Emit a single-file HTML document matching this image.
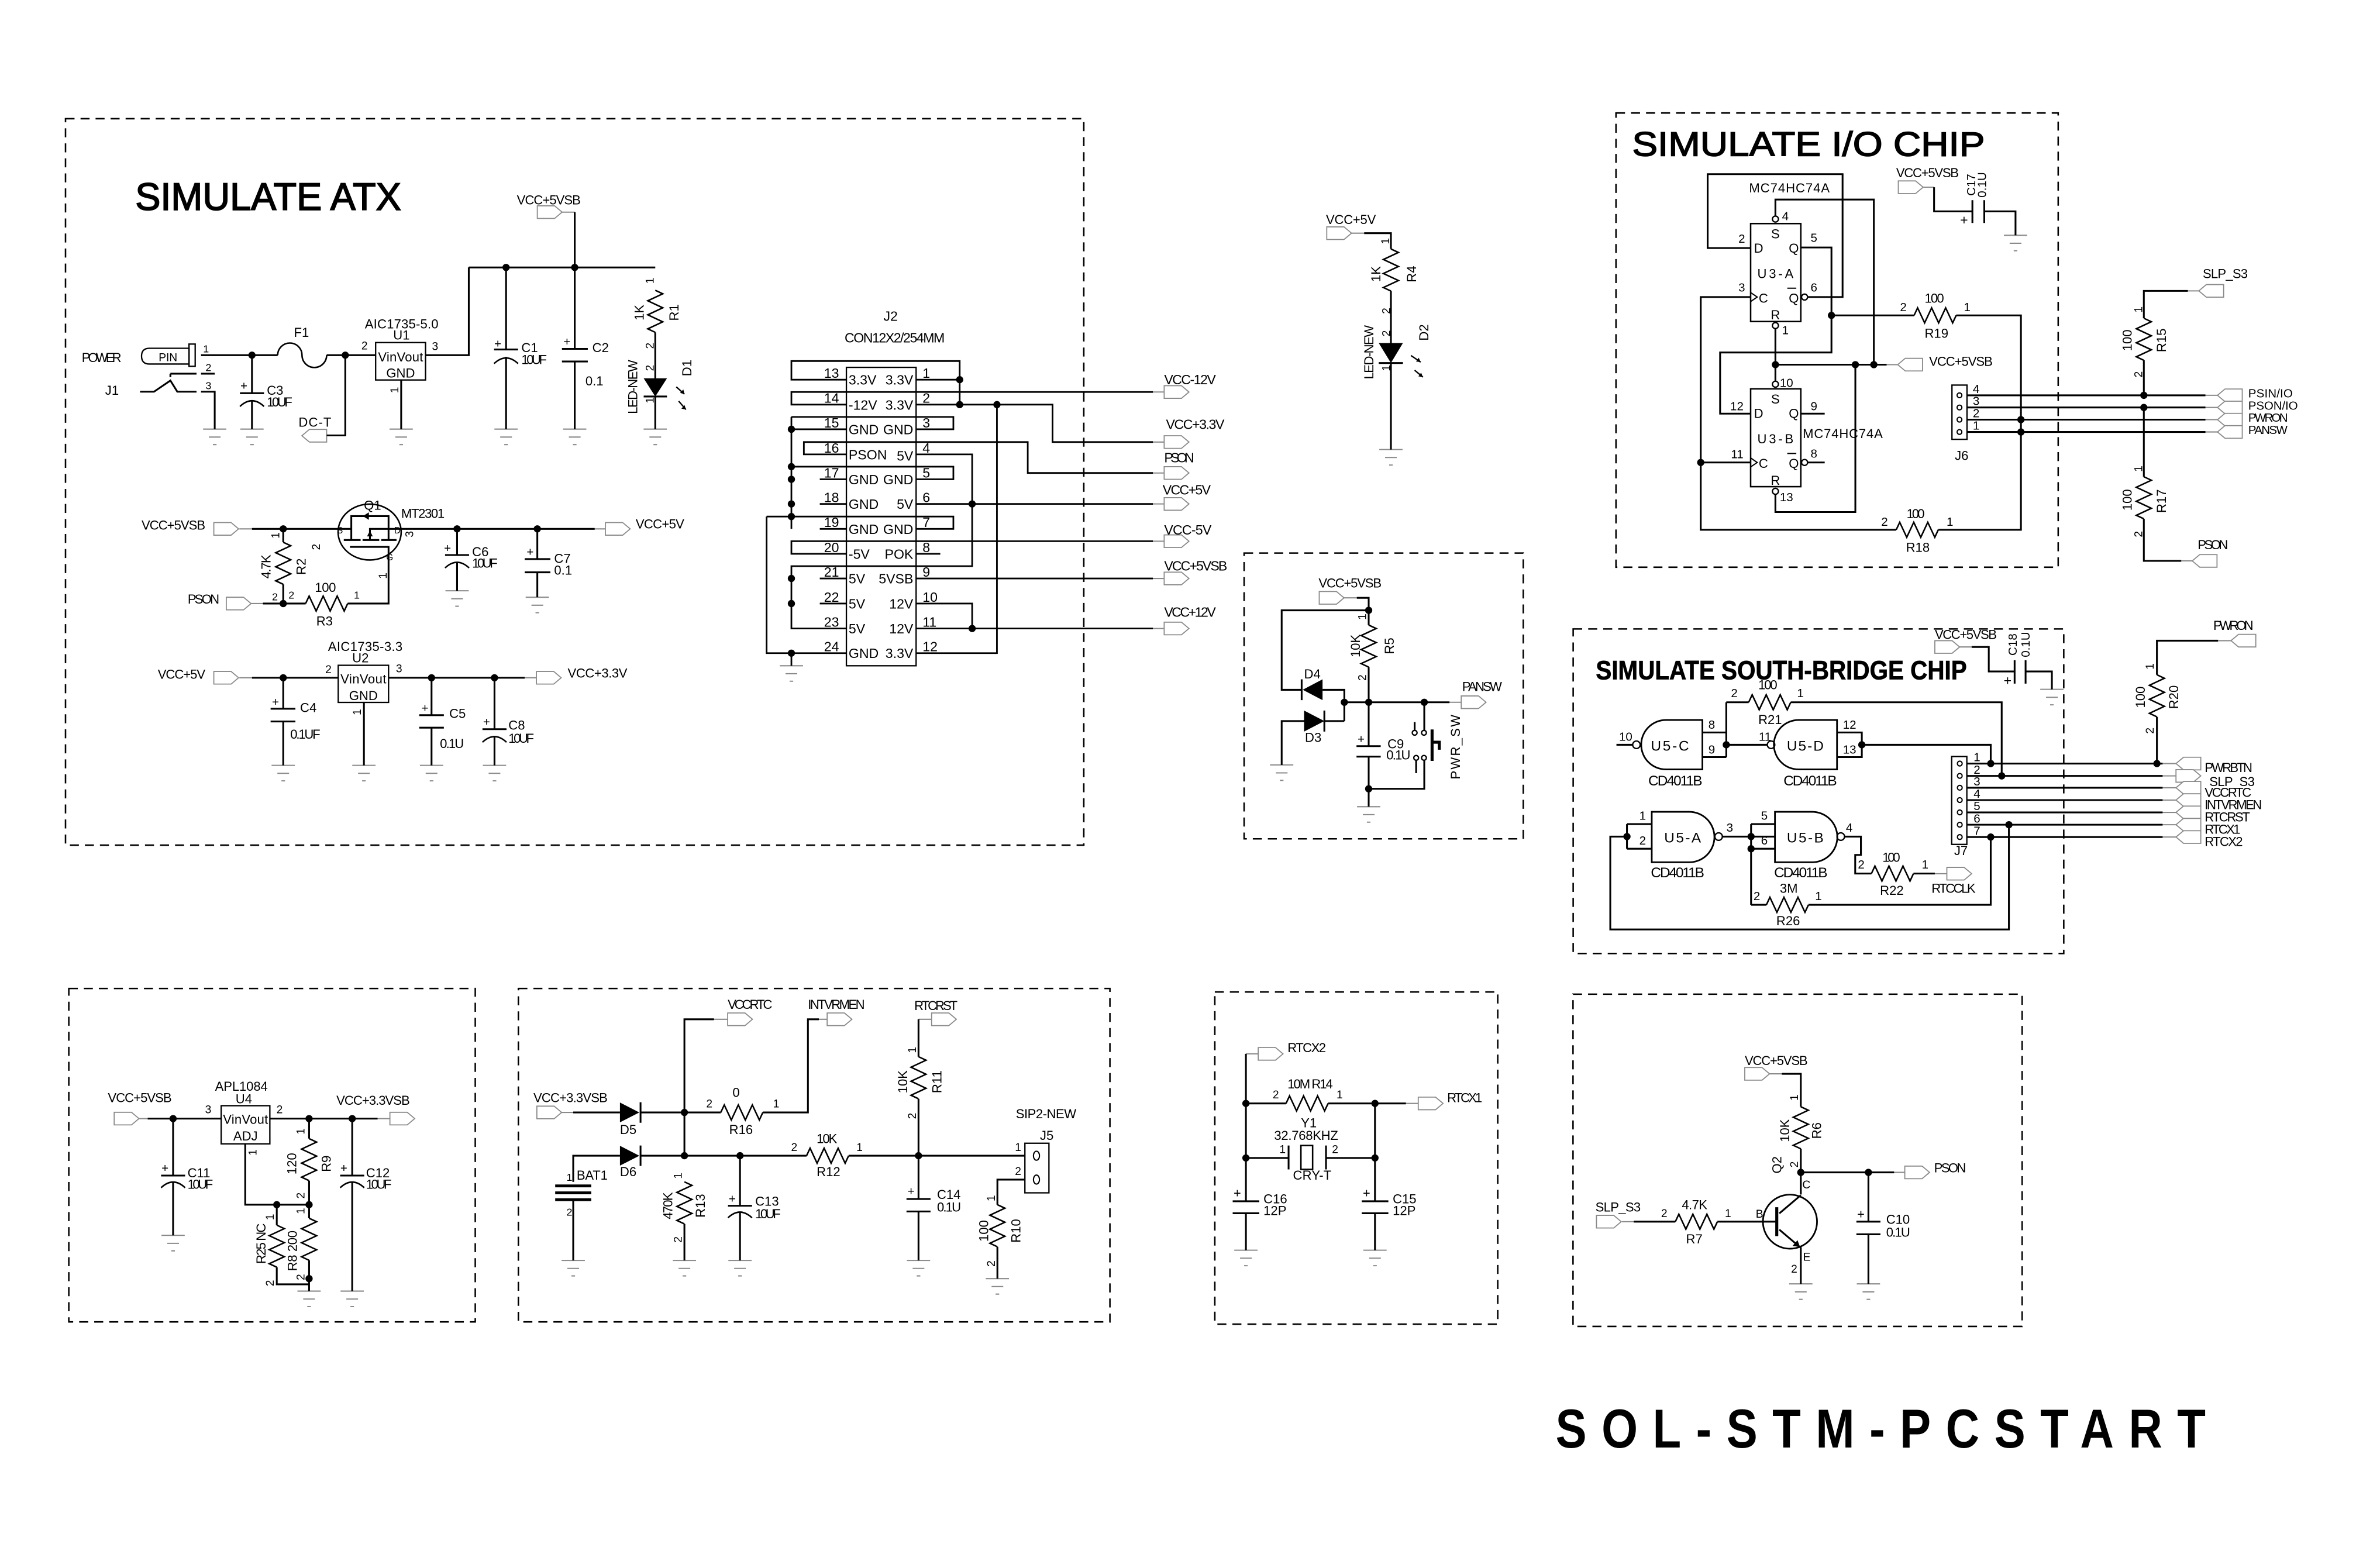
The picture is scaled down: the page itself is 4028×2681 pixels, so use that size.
<!DOCTYPE html>
<html><head><meta charset="utf-8"><style>
html,body{margin:0;padding:0;background:#fff;}
svg{display:block;}
text{font-family:"Liberation Sans",sans-serif;fill:#000;stroke:none;}
.r{text-anchor:middle;}
.m{text-anchor:middle;}
.e{text-anchor:end;}
</style></head><body>
<svg xmlns="http://www.w3.org/2000/svg" width="4028" height="2681" viewBox="0 0 1568 1043.6" preserveAspectRatio="none">
<defs>
<g id="gnd" stroke="#8a8a8a" stroke-width="0.8" fill="none"><path d="M-7.75,0H7.75M-3.9,5.3H3.9M-1.2,10.3H1.2"/></g>
<path id="rv" d="M0,0L5,2.33L-5,7L5,11.67L-5,16.33L5,21L-5,25.67L0,28" fill="none" stroke="#000" stroke-width="1"/>
<path id="rh" d="M0,0L2.33,-5L7,5L11.67,-5L16.33,5L21,-5L25.67,5L28,0" fill="none" stroke="#000" stroke-width="1"/>
<path id="pr" d="M0,-4.2H11.5L16.5,0L11.5,4.2H0Z" fill="#fff" stroke="#8a8a8a" stroke-width="0.7"/>
<path id="pl" d="M16.5,-4.2H5L0,0L5,4.2H16.5Z" fill="#fff" stroke="#8a8a8a" stroke-width="0.7"/>
</defs>
<rect width="1568" height="1043.6" fill="#fff"/>

<!-- dashed boxes -->
<g fill="none" stroke="#000" stroke-width="1" stroke-dasharray="6,4">
<rect x="43.6" y="79" width="677.7" height="483.5"/>
<rect x="828" y="368.1" width="185.8" height="190.2"/>
<rect x="1075.5" y="75.2" width="294.3" height="302.3"/>
<rect x="1047" y="418.6" width="326.5" height="216"/>
<rect x="45.8" y="657.9" width="270.5" height="221.9"/>
<rect x="345" y="657.9" width="393.7" height="221.9"/>
<rect x="808.5" y="660.2" width="188.3" height="221.1"/>
<rect x="1046.9" y="661.7" width="298.9" height="221.1"/>
</g>

<!-- gray leads -->
<path fill="none" stroke="#8a8a8a" stroke-width="0.8" d="
M374.1,141.2H382.5 M159.3,352H167.7 M167.1,401.7H175 M395.8,352H402.9 M159.3,451.1H167.7 M349.2,451.1H357
M767.3,260.9H774.8 M767.3,294.2H774.8 M767.3,314.8H774.8 M767.3,335.4H774.8 M767.3,360.2H774.8 M767.3,385H774.8 M767.3,418.3H774.8
M899.5,155.2H907.9 M894.5,397.9H903 M964.7,467.4H972.5
M1279.9,124.6H1287.2 M1255.6,242.7H1263 M1467.8,263.1H1475.8 M1467.8,271.2H1475.8 M1467.8,279.3H1475.8 M1467.8,287.5H1475.8 M1456.1,193.6H1463.4 M1451.7,373.3H1459
M1304.2,430.6H1312.2 M1439.3,508.2H1448.2 M1439.3,516.4H1448.2 M1439.3,524.3H1448.2 M1439.3,532.5H1448.2 M1439.3,540.7H1448.2 M1439.3,548.9H1448.2 M1439.3,557.1H1448.2 M1476.2,426.4H1484.8 M1287.7,581.5H1295.7
M92.6,744.5H98.3 M251.3,744.5H259.5 M373.8,740.4H381.5 M545,678.4H550.5 M475.2,678.4H484.3 M611.3,678.4H620
M829.2,701.4H837.4 M935.7,734.4H943.9 M1177.2,714.7H1185.9 M1260.6,780.3H1267.7 M1079.5,813.1H1087.3"/>

<!-- ports -->
<use href="#pr" x="357.6" y="141.2"/>
<use href="#pr" x="142.3" y="352"/>
<use href="#pr" x="150.6" y="401.7"/>
<use href="#pr" x="402.9" y="352"/>
<use href="#pr" x="142.3" y="451.1"/>
<use href="#pr" x="357" y="451.1"/>
<use href="#pl" x="200.9" y="290"/>
<use href="#pr" x="774.8" y="260.9"/>
<use href="#pr" x="774.8" y="294.2"/>
<use href="#pr" x="774.8" y="314.8"/>
<use href="#pr" x="774.8" y="335.4"/>
<use href="#pr" x="774.8" y="360.2"/>
<use href="#pr" x="774.8" y="385"/>
<use href="#pr" x="774.8" y="418.3"/>
<use href="#pr" x="883" y="155.2"/>
<use href="#pr" x="878" y="397.9"/>
<use href="#pr" x="972.5" y="467.4"/>
<use href="#pr" x="1263.4" y="124.6"/>
<use href="#pl" x="1263" y="242.7"/>
<use href="#pl" x="1475.8" y="263.1"/>
<use href="#pl" x="1475.8" y="271.2"/>
<use href="#pl" x="1475.8" y="279.3"/>
<use href="#pl" x="1475.8" y="287.5"/>
<use href="#pl" x="1463.4" y="193.6"/>
<use href="#pl" x="1459" y="373.3"/>
<use href="#pr" x="1287.7" y="430.6"/>
<use href="#pl" x="1448.2" y="508.2"/>
<use href="#pr" x="1448.2" y="516.4"/>
<use href="#pl" x="1448.2" y="524.3"/>
<use href="#pl" x="1448.2" y="532.5"/>
<use href="#pl" x="1448.2" y="540.7"/>
<use href="#pl" x="1448.2" y="548.9"/>
<use href="#pl" x="1448.2" y="557.1"/>
<use href="#pl" x="1484.8" y="426.4"/>
<use href="#pr" x="1295.7" y="581.5"/>
<use href="#pr" x="76" y="744.5"/>
<use href="#pr" x="259.5" y="744.5"/>
<use href="#pr" x="357.3" y="740.4"/>
<use href="#pr" x="550.5" y="678.4"/>
<use href="#pr" x="484.3" y="678.4"/>
<use href="#pr" x="620" y="678.4"/>
<use href="#pr" x="837.4" y="701.4"/>
<use href="#pr" x="943.9" y="734.4"/>
<use href="#pr" x="1161.2" y="714.7"/>
<use href="#pr" x="1267.7" y="780.3"/>
<use href="#pr" x="1062.5" y="813.1"/>

<!-- grounds -->
<use href="#gnd" x="142.9" y="285.6"/><use href="#gnd" x="167.7" y="285.6"/><use href="#gnd" x="267" y="285.6"/>
<use href="#gnd" x="336.8" y="285.6"/><use href="#gnd" x="382.5" y="285.6"/><use href="#gnd" x="436.1" y="285.6"/>
<use href="#gnd" x="304.2" y="393.2"/><use href="#gnd" x="357.6" y="397.5"/>
<use href="#gnd" x="188.5" y="509.4"/><use href="#gnd" x="242.2" y="509.4"/><use href="#gnd" x="287.2" y="509.4"/><use href="#gnd" x="329.1" y="509.4"/>
<use href="#gnd" x="526.7" y="443.1"/>
<use href="#gnd" x="925.7" y="299.2"/>
<use href="#gnd" x="853" y="509.1"/><use href="#gnd" x="910.9" y="536.9"/>
<use href="#gnd" x="1341.4" y="156.6"/>
<use href="#gnd" x="1365.6" y="458.8"/>
<use href="#gnd" x="115.2" y="822.2"/><use href="#gnd" x="205.7" y="859.3"/><use href="#gnd" x="234.4" y="859.3"/>
<use href="#gnd" x="381.5" y="838.9"/><use href="#gnd" x="455.5" y="838.9"/><use href="#gnd" x="492.5" y="838.9"/><use href="#gnd" x="611.3" y="838.9"/><use href="#gnd" x="663.8" y="851"/>
<use href="#gnd" x="829.2" y="832.1"/><use href="#gnd" x="915.1" y="832.1"/>
<use href="#gnd" x="1198.5" y="854.5"/><use href="#gnd" x="1243.5" y="854.5"/>

<!-- resistors -->
<use href="#rv" x="436.1" y="193.2"/>
<use href="#rv" x="188.5" y="360.9"/>
<use href="#rh" x="203.4" y="401.7"/>
<use href="#rv" x="925.7" y="165.7"/>
<use href="#rv" x="910.9" y="416"/>
<use href="#rh" x="1273.9" y="209.9"/>
<use href="#rh" x="1262" y="352.6"/>
<use href="#rv" x="1426.8" y="211.8"/>
<use href="#rv" x="1426.8" y="317.3"/>
<use href="#rh" x="1163.8" y="467.4"/>
<use href="#rv" x="1435.5" y="449.1"/>
<use href="#rh" x="1245.5" y="581.4"/>
<use href="#rh" x="1175.6" y="602.2"/>
<use href="#rv" x="205.7" y="757.8"/>
<use href="#rv" x="205.7" y="810.8"/>
<use href="#rv" x="184.2" y="815.4"/>
<use href="#rh" x="479.7" y="740.4"/>
<use href="#rh" x="536.8" y="769.2"/>
<use href="#rv" x="455.5" y="786.6"/>
<use href="#rv" x="611.3" y="703.3"/>
<use href="#rv" x="663.8" y="801.8"/>
<use href="#rh" x="855.9" y="734.4"/>
<use href="#rv" x="1198.5" y="736.6"/>
<use href="#rh" x="1115" y="813.1"/>

<!-- wires -->
<g fill="none" stroke="#000" stroke-width="1.2">
<path d="M382.5,141.2V178 M312,178H436.1 M312,178V236.4H283.2
M336.8,178V232.6 M328.8,232.6H344.8 M336.8,237.5V285.6
M382.5,178V232.2 M374,232.2H391.2 M374,240.6H391.2 M382.5,240.6V285.6
M436.1,221.2V251.8 M428.4,263.9H443.9 M436.1,263.9V285.6
M133.8,236.4H184.8 M133.8,248.7H142.9 M113.4,248.7H130.8 M133.8,260.7H142.9V285.6
M93.2,260.7H102.5L113.4,253.3L118,260.7H130.8 M113.4,248.7V251
M167.7,236.4V261.7 M159.7,261.7H175.7 M167.7,266.5V285.6
M217.4,236.4H250 M229.8,236.4V289.8H217.4 M267,252.9V285.6"/>
<path d="M328.8,242Q336.8,234.5 344.8,242 M159.7,270.5Q167.7,263 175.7,270.5 M184.8,236.4A8.1,8.1 0 0 1 201,236.4A8.2,8.2 0 0 0 217.4,236.4" stroke-width="1"/>
<path d="M125.8,231.8H99.5Q94.2,231.8 94.2,237Q94.2,242.3 99.5,242.3H125.8Z" stroke-width="0.9"/>
<rect x="125.8" y="229" width="4.1" height="14.8" stroke-width="0.9"/>
<rect x="250" y="228" width="33.2" height="24.9" stroke-width="0.9"/>
<path d="M450.1,257.5L455.5,262.3 M451.7,267L456.5,272.6" stroke-width="0.9"/>
<path d="M167.7,352H233.8 M233.8,359.4V343.5H258.6V359.4 M228.8,359.4H240 M241.3,359.4H252.4 M253.7,359.4H263.9 M232.9,364H259.2 M246.2,359.4V352H395.8 M258.6,364V401.7H231.4
M304.2,352V369.4 M296.2,369.4H312.2 M304.2,374.5V393.2
M357.6,352V372.1 M349.2,372.1H366.3 M349.2,380.9H366.3 M357.6,380.9V397.5
M188.5,352V360.9 M188.5,388.9V401.7 M175,401.7H203.4"/>
<path d="M296.2,378Q304.2,370.5 312.2,378" stroke-width="1"/>
<ellipse cx="246" cy="354.1" rx="21" ry="18.6" stroke-width="1"/>
<path d="M167.7,451.1H225.1 M258.6,451.1H349.2 M242.2,467.5V509.4
M188.5,451.1V471.7 M180.1,471.7H196.6 M180.1,480.2H196.6 M188.5,480.2V509.4
M287.2,451.1V476 M279,476H295.4 M279,484.3H295.4 M287.2,484.3V509.4
M329.1,451.1V485.3 M321.1,485.3H337.1 M329.1,490V509.4"/>
<path d="M321.1,494Q329.1,486.5 337.1,494" stroke-width="1"/>
<rect x="225.1" y="442.8" width="33.5" height="24.7" stroke-width="0.9"/>

<!-- J2 -->
<rect x="563.3" y="244.5" width="46.4" height="198.6" stroke-width="0.9"/>
<path stroke-width="1.1" d="M545.6,252.7H563.3 M545.6,269.3H563.3 M545.6,285.7H563.3 M545.6,302.4H563.3 M545.6,319H563.3 M545.6,335.4H563.3 M545.6,352H563.3 M545.6,368.6H563.3 M545.6,385H563.3 M545.6,401.7H563.3 M545.6,418.3H563.3 M545.6,434.7H563.3
M609.7,252.7H625.8 M609.7,269.3H625.8 M609.7,285.7H625.8 M609.7,302.4H625.8 M609.7,319H625.8 M609.7,335.4H625.8 M609.7,352H625.8 M609.7,368.6H625.8 M609.7,385H625.8 M609.7,401.7H625.8 M609.7,418.3H625.8 M609.7,434.7H625.8
M545.6,252.7H526.7V240.3H638.7V269.3 M625.8,252.7H638.7
M545.6,269.3H526.7V260.9H767.3
M625.8,269.3H700.5V294.2H767.3 M663.5,269.3V434.7H625.8
M526.7,277.5V352 M526.7,277.5H634.5V285.7H625.8 M545.6,285.7H526.7
M545.6,302.4H535V294.2H684V314.8H767.3
M526.7,310.6H634.5V319H625.8
M510.2,343.8H634.5V352H625.8 M510.2,343.8V434.7H545.6 M526.7,434.7V443.1
M625.8,302.4H647V376.8H526.7V418.3H545.6
M625.8,335.4H767.3
M545.6,368.6H526.7V360.2H767.3
M625.8,385H767.3
M625.8,401.7H647V418.3 M625.8,418.3H767.3"/>

<!-- D2 -->
<path d="M907.9,155.2H925.7V165.7 M925.7,193.7V228.3 M917.6,241.6H933.7 M925.7,241.6V299.2"/>
<path d="M939,236.6L945.5,241 M941.5,246.4L947,251" stroke-width="0.9"/>

<!-- PANSW -->
<path d="M903,397.9H910.9V416 M910.9,406.2H853V459.1H866.3 M866.3,452.1V466 M880.2,459.1H894.7V479.9
M853,509.1V479.9H867.9 M881.4,472.9V486.9 M881.4,479.9H894.7
M894.7,467.4H964.7 M910.9,444V467.4 M910.9,467.4V496.6 M902.8,496.6H918.9 M902.8,503.6H918.9 M910.9,503.6V536.9
M910.9,525H947.9V506 M947.9,467.4V486 M941.5,486V480.6 M942.5,506V514.6"/>
<path d="M953.1,485.5V506.4 M953.1,494H957.9V499" stroke-width="2"/>
<circle cx="941.5" cy="487.7" r="1.6" stroke-width="0.9"/><circle cx="947.7" cy="487.7" r="1.6" stroke-width="0.9"/>
<circle cx="942.5" cy="504.4" r="1.6" stroke-width="0.9"/><circle cx="947.7" cy="504.4" r="1.6" stroke-width="0.9"/>

<!-- IO chip -->
<rect x="1165.1" y="148.8" width="33.4" height="65.2" stroke-width="1"/>
<rect x="1165.1" y="258.8" width="33.4" height="65.1" stroke-width="1"/>
<path d="M1181.6,143.8V132.8H1247.1V242.7
M1165.1,165.1H1136.5V115.9H1226.3V197.7H1203
M1198.5,164.7H1218.9V234.6H1144.8V275.3H1165.1
M1218.9,209.9H1273.9 M1301.9,209.9H1345V352.6H1290
M1165.1,197.7H1131.9V352.6H1262
M1181.6,218.7V253.7 M1181.6,242.7H1255.6
M1234.8,242.7V340.8H1181.6V329
M1131.9,307.8H1165.1 M1198.5,275.3H1214.4 M1203,307.8H1214.4
M1287.2,124.6V140.7H1312.7 M1312.7,133.2V148.4 M1320.6,133.2V148.4 M1320.6,140.7H1341.4V156.6
M1309.1,263.1H1467.8 M1309.1,271.2H1467.8 M1309.1,279.3H1467.8 M1309.1,287.5H1467.8
M1426.8,263.1V239.8 M1426.8,211.8V193.6H1456.1
M1426.8,271.2V317.3 M1426.8,345.3V373.3H1451.7"/>
<path d="M1165.1,194.7L1169.5,197.7L1165.1,200.7 M1165.1,304.8L1169.5,307.8L1165.1,310.8 M1189.5,191.8H1195.5 M1189.5,301.8H1195.5" stroke-width="0.8"/>
<g stroke-width="0.9"><circle cx="1181.6" cy="145.8" r="2"/><circle cx="1181.6" cy="216.7" r="2"/><circle cx="1201" cy="197.7" r="2"/>
<circle cx="1181.6" cy="255.7" r="2"/><circle cx="1181.6" cy="327" r="2"/><circle cx="1201" cy="307.8" r="2"/></g>
<rect x="1299.1" y="256.3" width="10" height="36.1" stroke-width="0.9"/>
<g stroke-width="0.8"><circle cx="1304.1" cy="263.1" r="1.6"/><circle cx="1304.1" cy="271.2" r="1.6"/><circle cx="1304.1" cy="279.3" r="1.6"/><circle cx="1304.1" cy="287.5" r="1.6"/></g>

<!-- South bridge -->
<path d="M1312.2,430.6H1323.6V446.9H1340.8 M1340.8,439.4V455 M1348.1,439.4V455 M1348.1,446.9H1365.6V458.8
M1148.9,467.4H1163.8 M1191.8,467.4H1332.2V516.4
M1075.8,495.7H1086.6 M1133,487.5H1148.9 M1133,503.9H1148.9 M1148.9,467.4V503.9 M1148.9,495.7H1176.2
M1222.6,487.5H1239.1V503.9H1222.6 M1239.1,495.7H1324.9V508.2
M1309,508.2H1439.3 M1309,516.4H1439.3 M1309,524.3H1439.3 M1309,532.5H1439.3 M1309,540.7H1439.3 M1309,548.9H1439.3 M1309,557.1H1439.3
M1435.5,508.2V477.1 M1435.5,449.1V426.4H1476.2
M1146.3,556.8H1181.3 M1082.8,548.5H1099.3 M1082.8,564.9H1099.3 M1082.8,548.5V564.9
M1165.4,548.5H1181.3 M1165.4,564.9H1181.3 M1165.4,548.5V602.2
M1227.6,556.8H1238.5V569H1234.7V581.4H1245.5 M1273.5,581.4H1287.7
M1165.4,602.2H1175.6 M1203.6,602.2H1324.9V557.1
M1082.8,556.8H1071.7V618.6H1337V548.9"/>
<path d="M1133,479.2H1108.7A16.45,16.45 0 0 0 1108.7,512.1H1133Z M1222.6,479.2H1197A16.45,16.45 0 0 0 1197,512.1H1222.6Z M1099.3,540.3H1124.2A16.8,16.8 0 0 1 1124.2,573.9H1099.3Z M1181.3,540.3H1206A16.8,16.8 0 0 1 1206,573.9H1181.3Z" stroke-width="1.1"/>
<g stroke-width="0.9"><circle cx="1089.1" cy="495.7" r="2.5"/><circle cx="1178.7" cy="495.7" r="2.5"/><circle cx="1143.8" cy="556.8" r="2.5"/><circle cx="1225.1" cy="556.8" r="2.5"/></g>
<rect x="1298.9" y="503.5" width="10.1" height="58.5" stroke-width="0.9"/>
<g stroke-width="0.8"><circle cx="1304.3" cy="508.2" r="1.6"/><circle cx="1304.3" cy="516.4" r="1.6"/><circle cx="1304.3" cy="524.3" r="1.6"/><circle cx="1304.3" cy="532.5" r="1.6"/><circle cx="1304.3" cy="540.7" r="1.6"/><circle cx="1304.3" cy="548.9" r="1.6"/><circle cx="1304.3" cy="557.1" r="1.6"/></g>

<!-- bottom left -->
<rect x="147.2" y="735.9" width="32.4" height="25.4" stroke-width="0.9"/>
<path d="M98.3,744.5H147.2 M179.6,744.5H251.3
M115.2,744.5V782.4 M107.2,782.4H123.2 M115.2,787V822.2
M163.2,761.3V801.8H205.7 M205.7,744.5V757.8 M205.7,785.8V810.8 M205.7,838.8V859.3
M184.2,801.8V815.4 M184.2,843.4V854.8H205.7
M234.4,744.5V782.4 M226.4,782.4H242.4 M234.4,787V859.3"/>
<path d="M107.2,790.5Q115.2,783 123.2,790.5 M226.4,790.5Q234.4,783 242.4,790.5" stroke-width="1"/>

<!-- bottom middle -->
<path d="M381.5,740.4H412.6 M426.3,733.6V747.3 M426.3,740.4H479.7 M507.7,740.4H537.7V678.4H545
M455.5,769.2V678.4H475.2
M381.5,786.6V769.2H412.6 M426.3,762.4V776 M426.3,769.2H536.8 M564.8,769.2H682.1
M381.5,798.5V838.9
M455.5,814.6V838.9
M492.5,769.2V802.5 M484.5,802.5H500.5 M492.5,807V838.9
M611.3,678.4V703.3 M611.3,731.3V798 M603.3,798H619.3 M603.3,806.3H619.3 M611.3,806.3V838.9
M682.1,785.1H663.8V801.8 M663.8,829.8V851"/>
<path d="M484.5,810.5Q492.5,803 500.5,810.5" stroke-width="1"/>
<path d="M369.5,789.3H393.5 M369.5,793.9H393.5 M369.5,798.5H393.5" stroke-width="1.9"/>
<rect x="682.1" y="760.9" width="16" height="33" stroke-width="0.9"/>
<ellipse cx="689.8" cy="769.2" rx="2" ry="3" stroke-width="0.8"/>
<ellipse cx="689.8" cy="785.1" rx="2" ry="3" stroke-width="0.8"/>

<!-- RTC -->
<path d="M829.2,701.4V799.5 M820.4,799.5H838.1 M820.4,807.5H838.1 M829.2,807.5V832.1
M829.2,734.4H855.9 M883.9,734.4H935.7
M829.2,770.7H857.6 M857.6,762.4V778.3 M882.5,762.4V778.3 M882.5,770.7H915.1
M915.1,734.4V799.5 M906.3,799.5H924 M906.3,807.5H924 M915.1,807.5V832.1"/>
<rect x="865.8" y="762.4" width="7.8" height="15.9" stroke-width="1"/>

<!-- Q2 -->
<path d="M1185.9,714.7H1198.5V736.6 M1198.5,764.6V795 M1198.5,780.3H1260.6
M1087.3,813.1H1115 M1143,813.1H1182.5
M1184.2,807.6L1198.5,795.5 M1184.2,818.4L1198.5,830.5V854.5
M1243.5,780.3V813.1 M1235.5,813.1H1251.5 M1235.5,821.5H1251.5 M1243.5,821.5V854.5"/>
<path d="M1182.5,803.5V822.7" stroke-width="2"/>
<circle cx="1191.3" cy="813.1" r="18" stroke-width="1.1"/>
</g>

<!-- filled symbols -->
<g fill="#000" stroke="none">
<path d="M428.4,251.8H443.9L436.1,263.9Z"/>
<path d="M455.5,262.3L452.6,261.5L454.8,259.2Z M456.5,272.6L453.5,272L455.6,269.6Z"/>
<path d="M917.6,228.3H933.7L925.7,241.6Z"/>
<path d="M945.5,241L942.4,240.6L944.2,238.1Z M947,251L944,250.5L945.8,248Z"/>
<path d="M867,459.1L880.2,452.1L880.2,466Z"/>
<path d="M867.9,472.9L867.9,486.9L881.4,479.9Z"/>
<path d="M244.3,357L248.1,357L246.2,353.2Z"/>
<path d="M241.5,343.5L245.5,341L245.5,346Z"/>
<path d="M412.6,733.8L412.6,747L425.5,740.4Z"/>
<path d="M412.6,762.6L412.6,775.8L425.5,769.2Z"/>
<path d="M1198,830L1193,829.2L1196.3,825.4Z"/>
<circle cx="336.8" cy="178" r="2.4"/><circle cx="382.5" cy="178" r="2.4"/>
<circle cx="167.7" cy="236.4" r="2.4"/><circle cx="229.8" cy="236.4" r="2.4"/>
<circle cx="188.5" cy="352" r="2.4"/><circle cx="304.2" cy="352" r="2.4"/><circle cx="357.6" cy="352" r="2.4"/><circle cx="188.5" cy="401.7" r="2.4"/>
<circle cx="188.5" cy="451.1" r="2.4"/><circle cx="287.2" cy="451.1" r="2.4"/><circle cx="329.1" cy="451.1" r="2.4"/>
<circle cx="638.7" cy="252.7" r="2.4"/><circle cx="638.7" cy="269.3" r="2.4"/><circle cx="663.5" cy="269.3" r="2.4"/>
<circle cx="526.7" cy="285.7" r="2.4"/><circle cx="526.7" cy="310.6" r="2.4"/><circle cx="526.7" cy="319" r="2.4"/><circle cx="526.7" cy="335.4" r="2.4"/><circle cx="526.7" cy="343.8" r="2.4"/>
<circle cx="647" cy="335.4" r="2.4"/><circle cx="526.7" cy="385" r="2.4"/><circle cx="526.7" cy="401.7" r="2.4"/><circle cx="647" cy="418.3" r="2.4"/><circle cx="526.7" cy="434.7" r="2.4"/>
<circle cx="910.9" cy="406.2" r="2.4"/><circle cx="894.7" cy="467.4" r="2.4"/><circle cx="910.9" cy="467.4" r="2.4"/><circle cx="947.9" cy="467.4" r="2.4"/><circle cx="910.9" cy="525" r="2.4"/>
<circle cx="1218.9" cy="209.9" r="2.4"/><circle cx="1181.6" cy="242.7" r="2.4"/><circle cx="1234.8" cy="242.7" r="2.4"/><circle cx="1247.1" cy="242.7" r="2.4"/><circle cx="1131.9" cy="307.8" r="2.4"/>
<circle cx="1345" cy="279.3" r="2.4"/><circle cx="1345" cy="287.5" r="2.4"/><circle cx="1426.8" cy="263.1" r="2.4"/><circle cx="1426.8" cy="271.2" r="2.4"/>
<circle cx="1148.9" cy="495.7" r="2.4"/><circle cx="1239.1" cy="495.7" r="2.4"/><circle cx="1332.2" cy="516.4" r="2.4"/><circle cx="1324.9" cy="508.2" r="2.4"/>
<circle cx="1435.5" cy="508.2" r="2.4"/><circle cx="1337" cy="548.9" r="2.4"/><circle cx="1324.9" cy="557.1" r="2.4"/>
<circle cx="1082.8" cy="556.8" r="2.4"/><circle cx="1165.4" cy="556.8" r="2.4"/><circle cx="1165.4" cy="564.9" r="2.4"/>
<circle cx="115.2" cy="744.5" r="2.4"/><circle cx="205.7" cy="744.5" r="2.4"/><circle cx="234.4" cy="744.5" r="2.4"/><circle cx="184.2" cy="801.8" r="2.4"/><circle cx="205.7" cy="801.8" r="2.4"/><circle cx="205.7" cy="851" r="2.4"/>
<circle cx="455.5" cy="740.4" r="2.4"/><circle cx="455.5" cy="769.2" r="2.4"/><circle cx="492.5" cy="769.2" r="2.4"/><circle cx="611.3" cy="769.2" r="2.4"/>
<circle cx="829.2" cy="734.4" r="2.4"/><circle cx="829.2" cy="770.7" r="2.4"/><circle cx="915.1" cy="734.4" r="2.4"/><circle cx="915.1" cy="770.7" r="2.4"/>
<circle cx="1198.5" cy="780.3" r="2.4"/><circle cx="1243.5" cy="780.3" r="2.4"/>
</g>

<!-- TEXT -->
<g font-size="8.6">
<!-- ATX -->
<text x="90" y="139.8" font-size="25.5" textLength="177" lengthAdjust="spacingAndGlyphs" style="stroke:#000;stroke-width:0.7">SIMULATE ATX</text>
<text x="344" y="136" textLength="42.5">VCC+5VSB</text>
<text x="287.5" y="233" font-size="7.5">3</text>
<text x="329" y="231.5" font-size="8">+</text>
<text x="347" y="234.3">C1</text><text x="347" y="242.3" textLength="17">10UF</text>
<text x="375" y="230" font-size="8">+</text>
<text x="394.2" y="234.3">C2</text><text x="389.6" y="256.5">0.1</text>
<text class="r" transform="translate(432.4,186.8) rotate(-90)" dy="2.7" font-size="7.5">1</text>
<text class="r" transform="translate(425.3,208) rotate(-90)" dy="3">1K</text>
<text class="r" transform="translate(448.5,208) rotate(-90)" dy="3">R1</text>
<text class="r" transform="translate(432.4,230.1) rotate(-90)" dy="2.7" font-size="7.5">2</text>
<text class="r" transform="translate(432.4,244.9) rotate(-90)" dy="2.7" font-size="7.5">2</text>
<text class="r" transform="translate(432.4,266.4) rotate(-90)" dy="2.7" font-size="7.5">1</text>
<text class="r" transform="translate(421.2,257.5) rotate(-90)" dy="3" textLength="36">LED-NEW</text>
<text class="r" transform="translate(457.2,244.9) rotate(-90)" dy="3">D1</text>
<text x="54.4" y="241" textLength="26.4">POWER</text>
<text x="70" y="262.8">J1</text>
<text x="105.6" y="240.4" font-size="7.5" textLength="12.4">PIN</text>
<text x="135.2" y="234.5" font-size="7">1</text><text x="136.8" y="247" font-size="7">2</text><text x="136.8" y="259" font-size="7">3</text>
<text x="160" y="259.5" font-size="8">+</text>
<text x="177.6" y="262.8">C3</text><text x="177.6" y="270.6" textLength="17">10UF</text>
<text x="195.6" y="224.2">F1</text>
<text x="240.5" y="232.5" font-size="7.5">2</text>
<text x="198.7" y="283.9" textLength="21.8">DC-T</text>
<text class="m" x="266.6" y="240.6" textLength="30">VinVout</text>
<text class="m" x="266.6" y="251.3">GND</text>
<text x="242.8" y="218.5" textLength="49">AIC1735-5.0</text>
<text x="261.7" y="225.9">U1</text>
<text class="r" transform="translate(262.4,259.6) rotate(-90)" dy="2.7" font-size="7.5">1</text>
<!-- Q1 -->
<text x="94.2" y="352.4" textLength="42.5">VCC+5VSB</text>
<text x="242.2" y="339.3">Q1</text>
<text x="267" y="344.7" textLength="28.9">MT2301</text>
<text x="224.2" y="355" font-size="6">S</text><text x="262.3" y="355" font-size="6">D</text><text x="257" y="373" font-size="6">G</text>
<text class="r" transform="translate(210.2,364) rotate(-90)" dy="2.7" font-size="7.5">2</text>
<text class="r" transform="translate(272.3,355.5) rotate(-90)" dy="2.7" font-size="7.5">3</text>
<text class="r" transform="translate(254.6,383.2) rotate(-90)" dy="2.7" font-size="7.5">1</text>
<text x="423.1" y="351.7" textLength="32.3">VCC+5V</text>
<text x="295.5" y="367.5" font-size="8">+</text>
<text x="314.2" y="370.1">C6</text><text x="314.2" y="377.8" textLength="17">10UF</text>
<text x="350.5" y="370" font-size="8">+</text>
<text x="368.8" y="374.7">C7</text><text x="368.8" y="382.4">0.1</text>
<text class="r" transform="translate(183.2,356.3) rotate(-90)" dy="2.7" font-size="7.5">1</text>
<text class="r" transform="translate(177,377.1) rotate(-90)" dy="3" textLength="16">4.7K</text>
<text class="r" transform="translate(200.3,377.1) rotate(-90)" dy="3">R2</text>
<text x="181" y="399.5" font-size="7">2</text>
<text x="124.9" y="401.7" textLength="21.1">PSON</text>
<text x="209.6" y="394" textLength="14">100</text>
<text x="210.5" y="416.3">R3</text>
<text x="192" y="398.5" font-size="7">2</text><text x="235.5" y="398.5" font-size="7">1</text>
<!-- U2 -->
<text x="105" y="451.7" textLength="31.7">VCC+5V</text>
<text x="216.5" y="448" font-size="7.5">2</text>
<text class="m" x="241.85" y="454.8" textLength="30.5">VinVout</text>
<text class="m" x="241.85" y="466">GND</text>
<text x="218.3" y="433.2" textLength="49.6">AIC1735-3.3</text>
<text x="234.4" y="440.9">U2</text>
<text class="r" transform="translate(237.5,474) rotate(-90)" dy="2.7" font-size="7.5">1</text>
<text x="181" y="469.8" font-size="8">+</text>
<text x="199.7" y="474">C4</text><text x="193.2" y="491.7" textLength="20">0.1UF</text>
<text x="263.5" y="447.5" font-size="7.5">3</text>
<text x="377.8" y="451" textLength="39.7">VCC+3.3V</text>
<text x="280.5" y="474" font-size="8">+</text>
<text x="299" y="477.9">C5</text><text x="292.8" y="497.9" textLength="16">0.1U</text>
<text x="321.5" y="483" font-size="8">+</text>
<text x="338.4" y="485.6">C8</text><text x="338.4" y="494.3" textLength="17">10UF</text>
<!-- J2 -->
<g font-size="9">
<text x="588" y="213.5">J2</text>
<text x="562.1" y="227.9" textLength="66.7">CON12X2/254MM</text>
<text x="548.4" y="251.5">13</text><text x="548.4" y="268.1">14</text><text x="548.4" y="284.5">15</text><text x="548.4" y="301.2">16</text>
<text x="548.4" y="317.8">17</text><text x="548.4" y="334.2">18</text><text x="548.4" y="350.8">19</text><text x="548.4" y="367.4">20</text>
<text x="548.4" y="383.8">21</text><text x="548.4" y="400.5">22</text><text x="548.4" y="417.1">23</text><text x="548.4" y="433.5">24</text>
<text x="614" y="251.5">1</text><text x="614" y="268.1">2</text><text x="614" y="284.5">3</text><text x="614" y="301.2">4</text>
<text x="614" y="317.8">5</text><text x="614" y="334.2">6</text><text x="614" y="350.8">7</text><text x="614" y="367.4">8</text>
<text x="614" y="383.8">9</text><text x="614" y="400.5">10</text><text x="614" y="417.1">11</text><text x="614" y="433.5">12</text>
<text x="564.8" y="256">3.3V</text><text x="564.8" y="272.6">-12V</text><text x="564.8" y="289">GND</text><text x="564.8" y="305.7">PSON</text>
<text x="564.8" y="322.3">GND</text><text x="564.8" y="338.7">GND</text><text x="564.8" y="355.3">GND</text><text x="564.8" y="371.9">-5V</text>
<text x="564.8" y="388.3">5V</text><text x="564.8" y="405">5V</text><text x="564.8" y="421.6">5V</text><text x="564.8" y="438">GND</text>
<text class="e" x="607.8" y="256">3.3V</text><text class="e" x="607.8" y="272.6">3.3V</text><text class="e" x="607.8" y="289">GND</text><text class="e" x="607.8" y="306.5">5V</text>
<text class="e" x="607.8" y="322.3">GND</text><text class="e" x="607.8" y="338.7">5V</text><text class="e" x="607.8" y="355.3">GND</text><text class="e" x="607.8" y="371.9">POK</text>
<text class="e" x="607.8" y="388.3">5VSB</text><text class="e" x="607.8" y="405">12V</text><text class="e" x="607.8" y="421.6">12V</text><text class="e" x="607.8" y="438">3.3V</text>
<text x="774.8" y="255.7" textLength="34.4">VCC-12V</text>
<text x="776" y="285.5" textLength="38.9">VCC+3.3V</text>
<text x="774.8" y="307.8" textLength="20">PSON</text>
<text x="773.8" y="329.2" textLength="32">VCC+5V</text>
<text x="774.8" y="355.7" textLength="31.5">VCC-5V</text>
<text x="774.8" y="379.8" textLength="42">VCC+5VSB</text>
<text x="774.8" y="410.4" textLength="34.4">VCC+12V</text>
</g>
<!-- D2 -->
<text x="882.5" y="149" textLength="33.2">VCC+5V</text>
<text class="r" transform="translate(921.8,160.5) rotate(-90)" dy="2.7" font-size="7.5">1</text>
<text class="r" transform="translate(915.7,182.4) rotate(-90)" dy="3">1K</text>
<text class="r" transform="translate(939.5,182.4) rotate(-90)" dy="3">R4</text>
<text class="r" transform="translate(922.5,206.9) rotate(-90)" dy="2.7" font-size="7.5">2</text>
<text class="r" transform="translate(922.5,221.9) rotate(-90)" dy="2.7" font-size="7.5">2</text>
<text class="r" transform="translate(922.5,245) rotate(-90)" dy="2.7" font-size="7.5">1</text>
<text class="r" transform="translate(911.1,234.4) rotate(-90)" dy="3" textLength="36">LED-NEW</text>
<text class="r" transform="translate(947.7,221.3) rotate(-90)" dy="3">D2</text>
<!-- PANSW -->
<text x="877.6" y="391" textLength="41.9">VCC+5VSB</text>
<text x="867.9" y="451.6">D4</text><text x="868.5" y="493.8">D3</text>
<text x="973.1" y="459.9" textLength="26.5">PANSW</text>
<text class="r" transform="translate(906.5,410.5) rotate(-90)" dy="2.7" font-size="7.5">1</text>
<text class="r" transform="translate(902.1,429.9) rotate(-90)" dy="3">10K</text>
<text class="r" transform="translate(924.7,429.9) rotate(-90)" dy="3">R5</text>
<text class="r" transform="translate(906.5,451) rotate(-90)" dy="2.7" font-size="7.5">2</text>
<text x="903.5" y="494.5" font-size="8">+</text>
<text x="923.4" y="498">C9</text><text x="922.7" y="505.5" textLength="16">0.1U</text>
<text class="r" transform="translate(968.6,497.2) rotate(-90)" dy="3" textLength="43">PWR_SW</text>
<!-- IO -->
<text x="1086.2" y="103.7" font-size="22.7" textLength="234.8" lengthAdjust="spacingAndGlyphs" style="stroke:#000;stroke-width:0.6">SIMULATE I/O CHIP</text>
<text x="1164.1" y="128.1" textLength="53.6">MC74HC74A</text>
<text x="1199.8" y="291.6" textLength="53.2">MC74HC74A</text>
<text class="m" x="1181.6" y="158.6">S</text><text x="1167.3" y="168.2">D</text><text x="1190.5" y="168.2">Q</text>
<text class="m" x="1181.6" y="185.1" textLength="24">U3-A</text><text x="1170.5" y="201.4">C</text><text x="1190.5" y="201.4">Q</text><text class="m" x="1181.6" y="212.6">R</text>
<text class="m" x="1181.6" y="268.6">S</text><text x="1167.3" y="278.2">D</text><text x="1190.5" y="278.2">Q</text>
<text class="m" x="1181.6" y="295" textLength="24">U3-B</text><text x="1170.5" y="311.4">C</text><text x="1190.5" y="311.4">Q</text><text class="m" x="1181.6" y="322.6">R</text>
<g font-size="8">
<text x="1186" y="146.5">4</text><text x="1157" y="161.5">2</text><text x="1205" y="161">5</text><text x="1157" y="194">3</text><text x="1205" y="194">6</text><text x="1186" y="222.5">1</text>
<text x="1184.5" y="257.5">10</text><text x="1151.5" y="273">12</text><text x="1205" y="273">9</text><text x="1152" y="305">11</text><text x="1205" y="304.5">8</text><text x="1184.5" y="333.5">13</text>
<text x="1264.5" y="207">2</text><text x="1307" y="207">1</text><text x="1252" y="350">2</text><text x="1295.5" y="350">1</text>
<text x="1313" y="261.5">4</text><text x="1313" y="269.6">3</text><text x="1313" y="277.7">2</text><text x="1313" y="285.9">1</text>
</g>
<text x="1280.9" y="201.4" textLength="12.9">100</text><text x="1280.9" y="224.8">R19</text>
<text x="1268.9" y="344.9" textLength="12">100</text><text x="1268.5" y="367.3">R18</text>
<text x="1283.9" y="243.5" textLength="42.3">VCC+5VSB</text>
<text x="1262" y="117.9" textLength="41.7">VCC+5VSB</text>
<text x="1304.5" y="149.5" font-size="9">+</text>
<text class="r" transform="translate(1311.7,123) rotate(-90)" dy="2.8" font-size="8">C17</text>
<text class="r" transform="translate(1319,123) rotate(-90)" dy="2.8" font-size="8">0.1U</text>
<text x="1301" y="306.2">J6</text>
<text x="1466" y="185" textLength="30">SLP_S3</text>
<text class="r" transform="translate(1423.1,206) rotate(-90)" dy="2.7" font-size="7.5">1</text>
<text class="r" transform="translate(1415.8,226.5) rotate(-90)" dy="3">100</text>
<text class="r" transform="translate(1438.5,226.5) rotate(-90)" dy="3">R15</text>
<text class="r" transform="translate(1423.1,249.2) rotate(-90)" dy="2.7" font-size="7.5">2</text>
<text class="r" transform="translate(1423.1,312) rotate(-90)" dy="2.7" font-size="7.5">1</text>
<text class="r" transform="translate(1415.8,332.7) rotate(-90)" dy="3">100</text>
<text class="r" transform="translate(1438.5,333.5) rotate(-90)" dy="3">R17</text>
<text class="r" transform="translate(1423.1,355.5) rotate(-90)" dy="2.7" font-size="7.5">2</text>
<text x="1462.6" y="365.6" textLength="20.3">PSON</text>
<text x="1496.3" y="264.5" font-size="8" textLength="29.6">PSIN/IO</text>
<text x="1496.3" y="272.6" font-size="8" textLength="33">PSON/IO</text>
<text x="1496.3" y="280.6" font-size="8" textLength="26.4">PWRON</text>
<text x="1496.3" y="288.8" font-size="8" textLength="26.1">PANSW</text>
<!-- South bridge -->
<text x="1062.1" y="452.1" font-size="17.7" font-weight="bold" textLength="246.9" lengthAdjust="spacingAndGlyphs" style="stroke:#000;stroke-width:0.3">SIMULATE SOUTH-BRIDGE CHIP</text>
<text x="1287.7" y="425.3" textLength="41.3">VCC+5VSB</text>
<text x="1333.5" y="456" font-size="9">+</text>
<text class="r" transform="translate(1339.4,429) rotate(-90)" dy="2.8" font-size="8">C18</text>
<text class="r" transform="translate(1348,429) rotate(-90)" dy="2.8" font-size="8">0.1U</text>
<text x="1170.2" y="458.8" textLength="12.7">100</text><text x="1170.2" y="481.9">R21</text>
<g font-size="8"><text x="1152" y="464">2</text><text x="1196" y="464">1</text>
<text x="1077.5" y="493">10</text><text x="1137" y="485">8</text><text x="1137" y="501.5">9</text>
<text x="1170.5" y="493">11</text><text x="1226.5" y="485">12</text><text x="1226.5" y="501.5">13</text>
<text x="1091" y="545.5">1</text><text x="1091" y="562">2</text><text x="1149" y="553.5">3</text>
<text x="1172" y="545.5">5</text><text x="1172" y="562">6</text><text x="1228.5" y="553.5">4</text>
<text x="1236.5" y="578">2</text><text x="1279" y="578">1</text><text x="1167" y="599">2</text><text x="1208" y="599">1</text>
<text x="1313.5" y="506.7">1</text><text x="1313.5" y="514.9">2</text><text x="1313.5" y="522.8">3</text><text x="1313.5" y="531">4</text><text x="1313.5" y="539.2">5</text><text x="1313.5" y="547.4">6</text><text x="1313.5" y="555.6">7</text>
</g>
<g font-size="9.5">
<text x="1098.7" y="499.7" textLength="25.4">U5-C</text><text x="1189.2" y="499.7" textLength="24.5">U5-D</text>
<text x="1107.6" y="560.8" textLength="24.5">U5-A</text><text x="1189.2" y="560.8" textLength="24.5">U5-B</text>
<text x="1097" y="522.8" textLength="36">CD4011B</text><text x="1187" y="522.8" textLength="35.6">CD4011B</text>
<text x="1098.7" y="583.9" textLength="35.6">CD4011B</text><text x="1180.7" y="583.9" textLength="35.6">CD4011B</text>
</g>
<text x="1300.5" y="569">J7</text>
<text x="1467.3" y="513.9" textLength="31.8">PWRBTN</text>
<text x="1470.4" y="523.1" textLength="30.2">SLP_S3</text>
<text x="1467.3" y="530.3" textLength="31.1">VCCRTC</text>
<text x="1467.3" y="538.5" textLength="38.1">INTVRMEN</text>
<text x="1467.3" y="546.7" textLength="30.2">RTCRST</text>
<text x="1467.3" y="554.9" textLength="23.8">RTCX1</text>
<text x="1467.3" y="563" textLength="25.4">RTCX2</text>
<text x="1473" y="419.3" textLength="26.7">PWRON</text>
<text class="r" transform="translate(1430.7,486.3) rotate(-90)" dy="2.7" font-size="7.5">2</text>
<text class="r" transform="translate(1430.7,443.5) rotate(-90)" dy="2.7" font-size="7.5">1</text>
<text class="r" transform="translate(1424.4,464) rotate(-90)" dy="3">100</text>
<text class="r" transform="translate(1446.6,464) rotate(-90)" dy="3">R20</text>
<text x="1285.5" y="594.3" textLength="29.3">RTCCLK</text>
<text x="1252.8" y="573.5" textLength="11.8">100</text><text x="1251.2" y="595.5">R22</text>
<text x="1184.5" y="594.3">3M</text><text x="1182.2" y="615.9">R26</text>
<!-- bottom left -->
<text x="71.8" y="733.6" textLength="42.5">VCC+5VSB</text>
<text x="136.5" y="741" font-size="7.5">3</text><text x="184" y="741" font-size="7.5">2</text>
<text class="m" x="163.4" y="748" textLength="30">VinVout</text><text class="m" x="163.4" y="759">ADJ</text>
<text x="143.1" y="726" textLength="35.1">APL1084</text><text x="156.8" y="734.4">U4</text>
<text x="223.9" y="735.4" textLength="48.9">VCC+3.3VSB</text>
<text x="107.5" y="780" font-size="8">+</text><text x="124.8" y="783.6">C11</text><text x="124.8" y="791.2" textLength="17">10UF</text>
<text x="226.5" y="780" font-size="8">+</text><text x="243.6" y="783.6">C12</text><text x="243.6" y="791.2" textLength="17">10UF</text>
<text class="r" transform="translate(168,767) rotate(-90)" dy="2.7" font-size="7.5">1</text>
<text class="r" transform="translate(200,753) rotate(-90)" dy="2.7" font-size="7.5">1</text>
<text class="r" transform="translate(194.2,774.5) rotate(-90)" dy="3">120</text>
<text class="r" transform="translate(217.1,774.5) rotate(-90)" dy="3">R9</text>
<text class="r" transform="translate(200,795.7) rotate(-90)" dy="2.7" font-size="7.5">2</text>
<text class="r" transform="translate(200,806) rotate(-90)" dy="2.7" font-size="7.5">1</text>
<text class="r" transform="translate(200,850) rotate(-90)" dy="2.7" font-size="7.5">2</text>
<text class="r" transform="translate(194.5,832.5) rotate(-90)" dy="3" textLength="27">R8 200</text>
<text class="r" transform="translate(179.5,810) rotate(-90)" dy="2.7" font-size="7.5">1</text>
<text class="r" transform="translate(179.5,854) rotate(-90)" dy="2.7" font-size="7.5">2</text>
<text class="r" transform="translate(173.7,827.7) rotate(-90)" dy="3" textLength="27">R25 NC</text>
<!-- bottom middle -->
<text x="355" y="733.6" textLength="49.4">VCC+3.3VSB</text>
<text x="412.6" y="754.8">D5</text><text x="412.6" y="782.8">D6</text>
<text x="537.7" y="671.5" textLength="37.9">INTVRMEN</text>
<text x="484.3" y="671.5" textLength="29.7">VCCRTC</text>
<text x="608.5" y="672.3" textLength="28.8">RTCRST</text>
<text x="487.5" y="730">0</text><text x="485.3" y="754.8">R16</text>
<text x="470" y="737" font-size="7.5">2</text><text x="514.5" y="737" font-size="7.5">1</text>
<text x="543.5" y="760.9" textLength="13.7">10K</text><text x="543.5" y="782.8">R12</text>
<text x="526.5" y="766" font-size="7.5">2</text><text x="570" y="766" font-size="7.5">1</text>
<text x="383.8" y="785.1" textLength="20.6">BAT1</text>
<text x="377" y="786" font-size="7">1</text><text x="377" y="809" font-size="7">2</text>
<text class="r" transform="translate(451,782.5) rotate(-90)" dy="2.7" font-size="7.5">1</text>
<text class="r" transform="translate(444.5,802.5) rotate(-90)" dy="3" textLength="18">470K</text>
<text class="r" transform="translate(466,802.5) rotate(-90)" dy="3">R13</text>
<text class="r" transform="translate(451,825) rotate(-90)" dy="2.7" font-size="7.5">2</text>
<text x="485" y="800.5" font-size="8">+</text><text x="502.6" y="802.5">C13</text><text x="502.6" y="810.9" textLength="17">10UF</text>
<text class="r" transform="translate(607,698.8) rotate(-90)" dy="2.7" font-size="7.5">1</text>
<text class="r" transform="translate(600.8,720) rotate(-90)" dy="3">10K</text>
<text class="r" transform="translate(623.6,720) rotate(-90)" dy="3">R11</text>
<text class="r" transform="translate(607,742.7) rotate(-90)" dy="2.7" font-size="7.5">2</text>
<text x="604" y="795.5" font-size="8">+</text><text x="623.6" y="798">C14</text><text x="623.6" y="806.3" textLength="16">0.1U</text>
<text x="692.1" y="758.6">J5</text>
<text x="676.1" y="744.2" textLength="40.2">SIP2-NEW</text>
<text x="675.5" y="766" font-size="7.5">1</text><text x="675.5" y="782" font-size="7.5">2</text>
<text class="r" transform="translate(659.5,797.5) rotate(-90)" dy="2.7" font-size="7.5">1</text>
<text class="r" transform="translate(654.7,819.2) rotate(-90)" dy="3">100</text>
<text class="r" transform="translate(676.1,819.2) rotate(-90)" dy="3">R10</text>
<text class="r" transform="translate(659.5,841) rotate(-90)" dy="2.7" font-size="7.5">2</text>
<!-- RTC -->
<text x="856.9" y="700.3" textLength="25.6">RTCX2</text>
<text x="963.1" y="733.6" textLength="23.4">RTCX1</text>
<text x="856.9" y="724.5" textLength="30.2">10M R14</text>
<text x="847" y="731" font-size="7.5">2</text><text x="889.5" y="731" font-size="7.5">1</text>
<text x="865.8" y="750.3">Y1</text>
<text x="848" y="758.6" textLength="42.6">32.768KHZ</text>
<text x="851.5" y="767.5" font-size="7.5">1</text><text x="886.5" y="767.5" font-size="7.5">2</text>
<text x="860.5" y="785.1" textLength="25.6">CRY-T</text>
<text x="821" y="797" font-size="8.5">+</text><text x="840.9" y="801">C16</text><text x="840.9" y="808.6">12P</text>
<text x="907" y="797" font-size="8.5">+</text><text x="926.9" y="801">C15</text><text x="926.9" y="808.6">12P</text>
<!-- Q2 -->
<text x="1161.2" y="708.9" textLength="41.9">VCC+5VSB</text>
<text class="r" transform="translate(1194,730.5) rotate(-90)" dy="2.7" font-size="7.5">1</text>
<text class="r" transform="translate(1187.8,752.5) rotate(-90)" dy="3">10K</text>
<text class="r" transform="translate(1209.1,752.5) rotate(-90)" dy="3">R6</text>
<text class="r" transform="translate(1194,775) rotate(-90)" dy="2.7" font-size="7.5">2</text>
<text class="r" transform="translate(1182.5,775.3) rotate(-90)" dy="3">Q2</text>
<text x="1287.2" y="780.3" textLength="21.3">PSON</text>
<text x="1168.5" y="810.5" font-size="7.5">B</text>
<text x="1199.5" y="791" font-size="7.5">C</text>
<text x="1200" y="839" font-size="7.5">E</text>
<text x="1192" y="847" font-size="7.5">2</text>
<text x="1061.8" y="806.3" textLength="30.2">SLP_S3</text>
<text x="1119.3" y="804.8" textLength="17">4.7K</text><text x="1122.1" y="827.5">R7</text>
<text x="1105.5" y="810" font-size="7.5">2</text><text x="1148" y="810" font-size="7.5">1</text>
<text x="1236" y="811" font-size="8.5">+</text><text x="1255.3" y="814.6">C10</text><text x="1255.3" y="823" textLength="16">0.1U</text>
</g>
<!-- main title -->
<text transform="translate(1035.3,963.4) scale(0.85,1)" font-size="36.5" font-weight="bold" textLength="509" lengthAdjust="spacing">SOL-STM-PCSTART</text>
</svg>
</body></html>
